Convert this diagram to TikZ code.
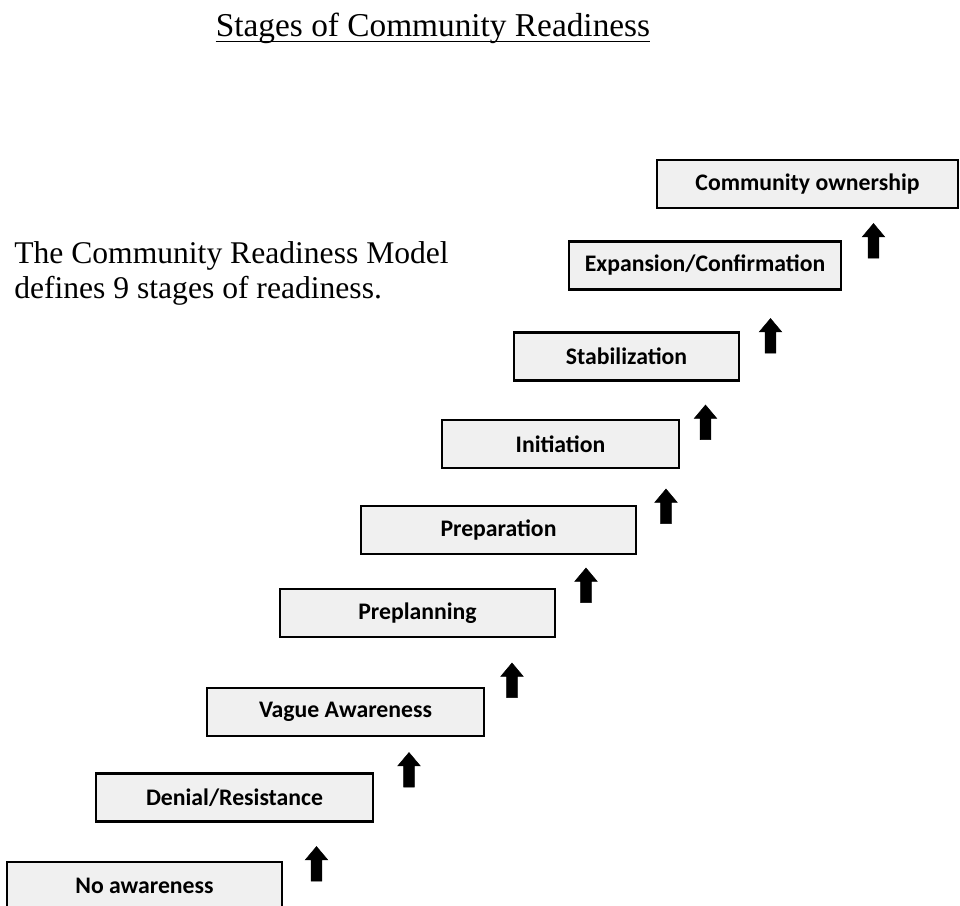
\documentclass[tikz,border=0pt]{standalone}
\usepackage{fontspec}
\setmainfont{Liberation Serif}
\newfontfamily\stagefont{Carlito}
\usepackage{xcolor}
\usepackage{tikz}
\usetikzlibrary{shapes.arrows}
\definecolor{stagefill}{RGB}{240,240,240}
\tikzset{
  % --- page texts ------------------------------------------------------------
  heading/.style={inner sep=0pt,font=\fontsize{25}{28}\selectfont},
  intro/.style={inner sep=0pt,align=left,
                font=\fontsize{23.7}{26.25}\selectfont},
  % --- readiness stages ------------------------------------------------------
  stage/.style={rectangle,draw=black,line width=1.6pt,fill=stagefill,
                minimum width=#1*0.75pt,minimum height=36pt,inner sep=0pt,
                font=\stagefont\bfseries\fontsize{17.8}{20}\selectfont},
  % --- block arrows between the steps ----------------------------------------
  uparr/.style={single arrow,draw=black,fill=black,shape border rotate=90,
                minimum height=26pt,inner sep=3.75pt,
                single arrow head extend=4.5pt,single arrow tip angle=80,
                single arrow head indent=0pt},
}
\begin{document}
\begin{tikzpicture}[x=0.75pt, y=-0.75pt]
  \useasboundingbox (0,0) rectangle (960,906);

  \node[heading,anchor=base] (head) at (433,37) {Stages of Community Readiness};
  \draw[line width=1.2pt] ([yshift=-3.5pt]head.base west) -- ([yshift=-3.5pt]head.base east);

  % base anchor sits on the last line
  \node[intro,anchor=base west] (intro) at (14,298)
    {The Community Readiness Model\\defines 9 stages of readiness.};

  \node[stage=275] (s1) at (144.5,886)   {No awareness};
  \node[stage=277] (s2) at (234.5,797.5) {Denial/Resistance};
  \node[stage=277] (s3) at (345.5,712)   {Vague Awareness};
  \node[stage=275] (s4) at (417.5,613)   {Preplanning};
  \node[stage=275] (s5) at (498.5,530)   {Preparation};
  \node[stage=237] (s6) at (560.5,444)   {Initiation};
  \node[stage=225] (s7) at (626.5,356.5) {Stabilization};
  \node[stage=272] (s8) at (705,265.5)   {Expansion/Confirmation};
  \node[stage=301] (s9) at (807.5,184)   {Community ownership};

  % one step up after each stage
  \node[uparr] (u1) at (316.5,867)   {};
  \node[uparr] (u2) at (409,773)     {};
  \node[uparr] (u3) at (512,683.5)   {};
  \node[uparr] (u4) at (586,588.5)   {};
  \node[uparr] (u5) at (666,509.5)   {};
  \node[uparr] (u6) at (705.5,425.5) {};
  \node[uparr] (u7) at (770.5,339)   {};
  \node[uparr] (u8) at (873.5,244)   {};
\end{tikzpicture}
\end{document}
